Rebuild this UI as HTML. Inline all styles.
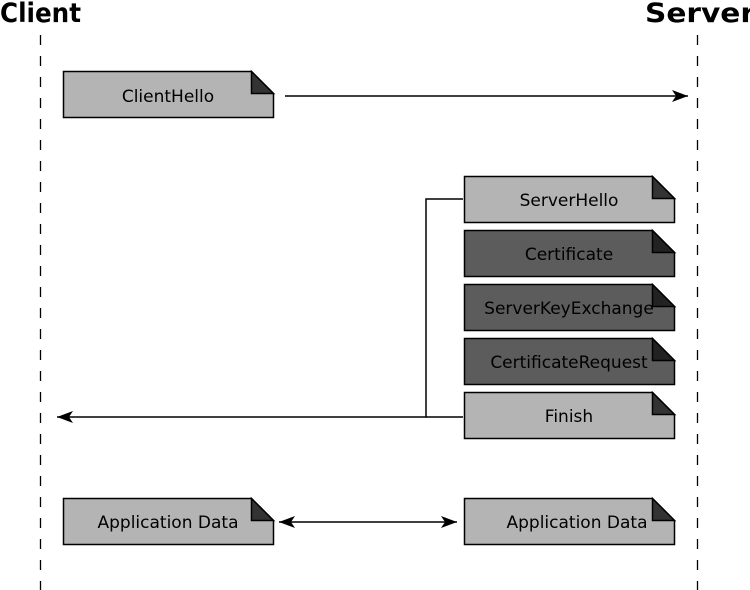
<!DOCTYPE html>
<html><head><meta charset="utf-8"><style>html,body{margin:0;padding:0;background:#fff}svg{display:block}</style></head>
<body>
<svg width="750" height="590" viewBox="0 0 750 590" xmlns="http://www.w3.org/2000/svg" font-family="DejaVu Sans, Liberation Sans, sans-serif">
<defs>
<marker id="a" markerWidth="16" markerHeight="12" refX="16" refY="6" orient="auto" markerUnits="userSpaceOnUse">
<path d="M0,0 L16,6 L0,12 L4,6 Z" fill="#000"/></marker>
<marker id="b" markerWidth="16" markerHeight="12" refX="0" refY="6" orient="auto" markerUnits="userSpaceOnUse">
<path d="M16,0 L0,6 L16,12 L12,6 Z" fill="#000"/></marker>
</defs>
<text x="0" y="22" font-size="27" font-weight="bold" textLength="81" lengthAdjust="spacingAndGlyphs">Client</text>
<text x="645" y="22" font-size="27" font-weight="bold" textLength="110" lengthAdjust="spacingAndGlyphs">Server</text>
<line x1="40.5" y1="35" x2="40.5" y2="590" stroke="#000" stroke-width="1.3" stroke-dasharray="10,11"/>
<line x1="697.5" y1="35" x2="697.5" y2="590" stroke="#000" stroke-width="1.3" stroke-dasharray="10,11"/>
<g stroke="#000" stroke-width="1.5" fill="none">
<line x1="285" y1="96" x2="688" y2="96" marker-end="url(#a)"/>
<polyline points="463,199 426,199 426,417 57,417" marker-end="url(#a)"/>
<line x1="426" y1="417" x2="463" y2="417"/>
<line x1="279" y1="522" x2="457" y2="522" marker-start="url(#b)" marker-end="url(#a)"/>
</g>
<g font-size="17" text-anchor="middle" stroke-width="1.5">
<g>
<path d="M63.5,71.5 H251.5 L273.5,93.5 V117.5 H63.5 Z" fill="#b4b4b4" stroke="#000"/>
<path d="M251.5,71.5 L273.5,93.5 H251.5 Z" fill="#333" stroke="#000"/>
<text x="168" y="102">ClientHello</text>
</g>
<g>
<path d="M464.5,176.5 H652.5 L674.5,198.5 V222.5 H464.5 Z" fill="#b4b4b4" stroke="#000"/>
<path d="M652.5,176.5 L674.5,198.5 H652.5 Z" fill="#333" stroke="#000"/>
<text x="569" y="206">ServerHello</text>
</g>
<g>
<path d="M464.5,230.5 H652.5 L674.5,252.5 V276.5 H464.5 Z" fill="#5c5c5c" stroke="#000"/>
<path d="M652.5,230.5 L674.5,252.5 H652.5 Z" fill="#222" stroke="#000"/>
<text x="569" y="260">Certificate</text>
</g>
<g>
<path d="M464.5,284.5 H652.5 L674.5,306.5 V330.5 H464.5 Z" fill="#5c5c5c" stroke="#000"/>
<path d="M652.5,284.5 L674.5,306.5 H652.5 Z" fill="#222" stroke="#000"/>
<text x="569" y="314">ServerKeyExchange</text>
</g>
<g>
<path d="M464.5,338.5 H652.5 L674.5,360.5 V384.5 H464.5 Z" fill="#5c5c5c" stroke="#000"/>
<path d="M652.5,338.5 L674.5,360.5 H652.5 Z" fill="#222" stroke="#000"/>
<text x="569" y="368">CertificateRequest</text>
</g>
<g>
<path d="M464.5,392.5 H652.5 L674.5,414.5 V438.5 H464.5 Z" fill="#b4b4b4" stroke="#000"/>
<path d="M652.5,392.5 L674.5,414.5 H652.5 Z" fill="#333" stroke="#000"/>
<text x="569" y="422">Finish</text>
</g>
<g>
<path d="M63.5,498.5 H251.5 L273.5,520.5 V544.5 H63.5 Z" fill="#b4b4b4" stroke="#000"/>
<path d="M251.5,498.5 L273.5,520.5 H251.5 Z" fill="#333" stroke="#000"/>
<text x="168" y="528">Application Data</text>
</g>
<g>
<path d="M464.5,498.5 H652.5 L674.5,520.5 V544.5 H464.5 Z" fill="#b4b4b4" stroke="#000"/>
<path d="M652.5,498.5 L674.5,520.5 H652.5 Z" fill="#333" stroke="#000"/>
<text x="577" y="528">Application Data</text>
</g>
</g>
</svg>
</body></html>
